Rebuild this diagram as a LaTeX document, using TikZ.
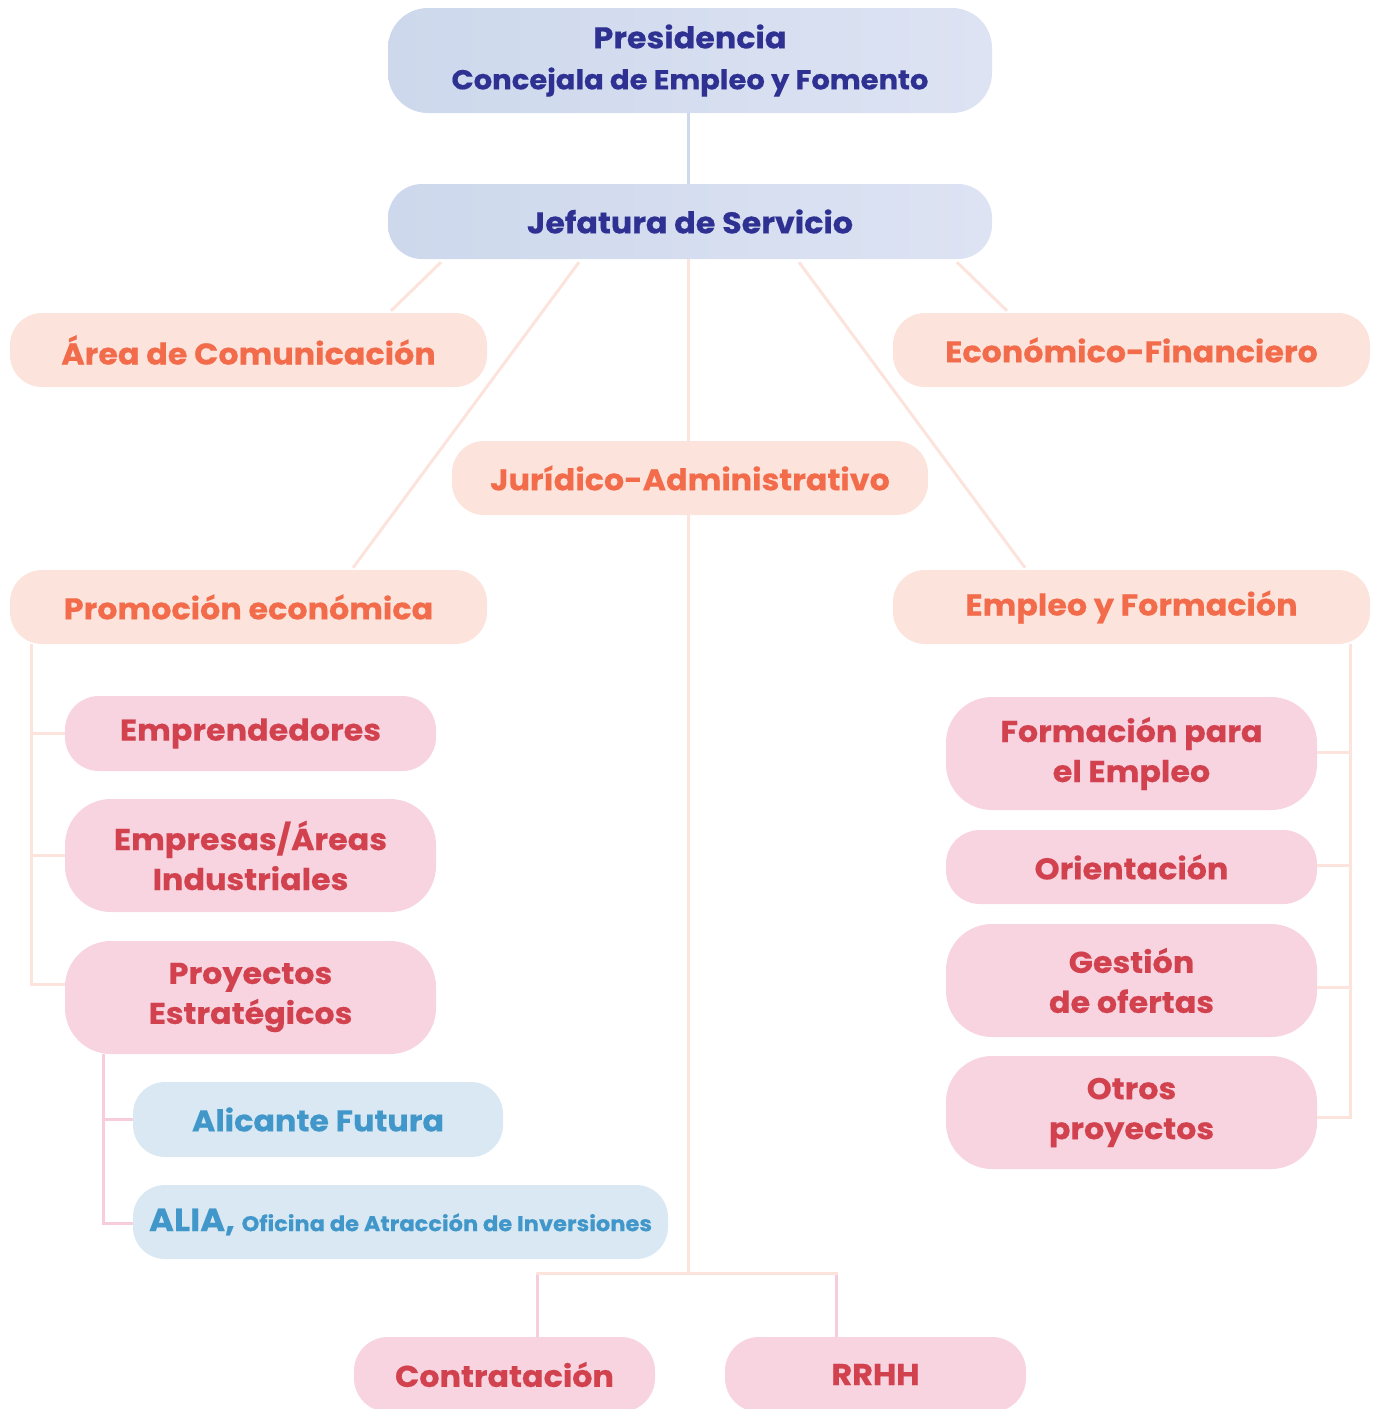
\documentclass[tikz,border=0pt]{standalone}
\usepackage{fontspec}
\setmainfont{Poppins}[BoldFeatures={FakeStretch=1.06,FakeBold=0.4}]
\definecolor{navy}{HTML}{2E3192}
\definecolor{blueA}{HTML}{CDD8EC}
\definecolor{blueB}{HTML}{DDE3F3}
\definecolor{blueline}{HTML}{CFD9EC}
\definecolor{peach}{HTML}{FCE4DD}
\definecolor{orangetxt}{HTML}{F26B4A}
\definecolor{pinkfill}{HTML}{F8D3E0}
\definecolor{crimson}{HTML}{D1424E}
\definecolor{pinkline}{HTML}{F7CCDC}
\definecolor{skyfill}{HTML}{D9E8F2}
\definecolor{skytxt}{HTML}{4197C9}
\begin{document}
\begin{tikzpicture}[x=1pt,y=-1pt,
  base/.style={inner sep=0pt, align=center, font=\fontsize{30}{40}\selectfont\bfseries},
  topbox/.style={base, left color=blueA, right color=blueB, text=navy, rounded corners=40pt},
  areabox/.style={base, fill=peach, text=orangetxt, rounded corners=32pt, minimum width=477pt, minimum height=74pt},
  subbox/.style={base, fill=pinkfill, text=crimson, rounded corners=36pt, minimum width=371pt},
  skybox/.style={base, fill=skyfill, text=skytxt, rounded corners=32pt, minimum height=75pt},
  peachline/.style={draw=peach, line width=3pt},
  pinkln/.style={draw=pinkline, line width=3pt},
  blueln/.style={draw=blueline, line width=3pt}]
\useasboundingbox (0,0) rectangle (1378,1409);

% top boxes
\node[topbox, minimum width=604pt, minimum height=105pt, font=\fontsize{30}{41}\selectfont\bfseries] (pres) at (690,60.5) {Presidencia\\{\fontsize{27.4}{41}\selectfont Concejala de Empleo y Fomento}};
\node[topbox, minimum width=604pt, minimum height=75pt, rounded corners=34pt] (jef) at (690,221.5) {Jefatura de Servicio};

% areas
\node[areabox] (area) at (248.5,350) {Área de Comunicación};
\node[areabox] (econ) at (1131.5,350) {Económico-Financiero};
\node[areabox, minimum width=476pt] (jur) at (690,478) {Jurídico-Administrativo};
\node[areabox] (prom) at (248.5,607) {Promoción económica};
\node[areabox] (empf) at (1131.5,607) {Empleo y Formación};

% left sub boxes
\node[subbox, minimum height=75pt, rounded corners=34pt] (empr) at (250.5,733.5) {Emprendedores};
\node[subbox, minimum height=113pt, rounded corners=46pt] (empresas) at (250.5,855.5) {Empresas/Áreas\\Industriales};
\node[subbox, minimum height=113pt, rounded corners=46pt] (proy) at (250.5,997.5) {Proyectos\\Estratégicos};
\node[skybox, minimum width=370pt] (alic) at (318,1119.5) {Alicante Futura};
\node[skybox, minimum width=535pt, minimum height=74pt] (alia) at (400.5,1222) {{\fontsize{32}{36}\selectfont ALIA,} {\fontsize{21.3}{26}\selectfont Oficina de Atracción de Inversiones}};

% right sub boxes
\node[subbox, minimum height=113pt, rounded corners=46pt] (form) at (1131.5,753.5) {Formación para\\el Empleo};
\node[subbox, minimum height=74pt, rounded corners=34pt] (orient) at (1131.5,867) {Orientación};
\node[subbox, minimum height=113pt, rounded corners=46pt] (gest) at (1131.5,980.5) {Gestión\\de ofertas};
\node[subbox, minimum height=113pt, rounded corners=46pt] (otros) at (1131.5,1112.5) {Otros\\proyectos};

% bottom boxes
\node[subbox, minimum width=301pt, minimum height=75pt, rounded corners=34pt] (contr) at (504.5,1374.5) {Contratación};
\node[subbox, minimum width=301pt, minimum height=75pt, rounded corners=34pt] (rrhh) at (875.5,1374.5) {RRHH};

% connectors
\draw[blueln] ([xshift=-2pt]pres.south) -- ([xshift=-2pt]jef.north);
\draw[peachline] ([xshift=-249pt,yshift=-3pt]jef.south) -- ([xshift=142.5pt,yshift=2pt]area.north);
\draw[peachline] ([xshift=-111pt,yshift=-3pt]jef.south) -- ([xshift=104.5pt,yshift=2pt]prom.north);
\draw[peachline] ([xshift=-2pt]jef.south) -- ([xshift=-2pt]jur.north);
\draw[peachline] ([xshift=109pt,yshift=-3pt]jef.south) -- ([xshift=-106.5pt,yshift=2pt]empf.north);
\draw[peachline] ([xshift=267pt,yshift=-3pt]jef.south) -- ([xshift=-124.5pt,yshift=2pt]econ.north);

% Promocion tree
\draw[peachline] ([xshift=22pt]prom.south west) |- (empr.west);
\draw[peachline] ([xshift=22pt]prom.south west) |- (empresas.west);
\draw[peachline] ([xshift=22pt]prom.south west) |- ([yshift=13.5pt]proy.west);

% Proyectos sub-tree
\draw[pinkln] ([xshift=39pt]proy.south west) |- (alic.west);
\draw[pinkln] ([xshift=39pt]proy.south west) |- ([yshift=-1pt]alia.west);

% Empleo tree
\draw[peachline] ([xshift=-20pt]empf.south east) |- ([yshift=1.5pt]form.east);
\draw[peachline] ([xshift=-20pt]empf.south east) |- ([yshift=2pt]orient.east);
\draw[peachline] ([xshift=-20pt]empf.south east) |- ([yshift=-6.5pt]gest.east);
\draw[peachline] ([xshift=-20pt]empf.south east) |- ([yshift=-4.5pt]otros.east);

% Juridico bus
\coordinate (bus) at ([xshift=-2pt]jur.south |- 0,1273);
\coordinate (busL) at ([xshift=32.5pt]contr.north |- 0,1273);
\coordinate (busR) at ([xshift=-39.5pt]rrhh.north |- 0,1273);
\draw[peachline] ([xshift=-2pt]jur.south) -- (bus);
\draw[peachline] ([xshift=-1.5pt]busL) -- ([xshift=1.5pt]busR);
\draw[pinkln] ([yshift=-1.5pt]busL) -- ([xshift=32.5pt]contr.north);
\draw[pinkln] ([yshift=-1.5pt]busR) -- ([xshift=-39.5pt]rrhh.north);
\end{tikzpicture}
\end{document}
